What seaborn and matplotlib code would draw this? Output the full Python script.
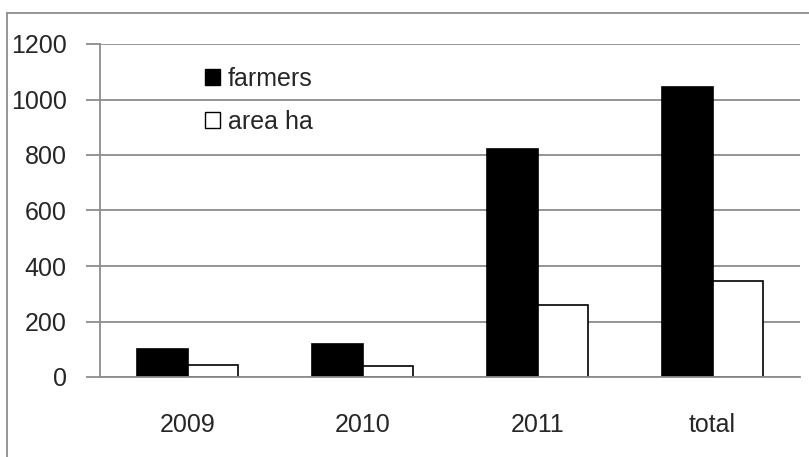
import numpy as np
import pandas as pd
import matplotlib.pyplot as plt
import seaborn as sns
from matplotlib.lines import Line2D
from matplotlib.patches import Patch

categories = ["2009", "2010", "2011", "total"]
farmers = [102, 120, 820, 1045]
area_ha = [45, 40, 260, 345]

data = pd.DataFrame({
    "Year": categories * 2,
    "Value": farmers + area_ha,
    "Series": ["farmers"] * 4 + ["area ha"] * 4,
})

sns.set_style("white")
plt.rcParams["font.family"] = ["Liberation Sans", "DejaVu Sans"]

fig = plt.figure(figsize=(8.09, 4.57), dpi=100)
ax = fig.add_axes([100 / 809, 1 - 377 / 457, 700 / 809, 333 / 457])

sns.barplot(data=data, x="Year", y="Value", hue="Series",
            palette=["black", "white"], edgecolor="black", linewidth=1.2,
            width=0.572, gap=0, saturation=1, ax=ax, legend=False)

ax.set_ylim(0, 1200)
ax.set_xlim(-0.5, 3.5)
ax.set_yticks(np.arange(0, 1201, 200))
ax.yaxis.grid(True, color="#8c8c8c", linewidth=1.3)
ax.set_axisbelow(True)
ax.set_xlabel("")
ax.set_ylabel("")

for side in ["top", "right"]:
    ax.spines[side].set_visible(False)
for side in ["left", "bottom"]:
    ax.spines[side].set_color("#8c8c8c")
    ax.spines[side].set_linewidth(1.3)

ax.set_xticks([0, 1, 2, 3])
ax.set_xticklabels(categories)
ax.set_xticks([-0.5, 0.5, 1.5, 2.5, 3.5], minor=True)
ax.tick_params(axis="x", which="major", length=0, pad=26, labelsize=18)
ax.tick_params(axis="x", which="minor", length=8, width=1.3, color="#8c8c8c", direction="out")
ax.tick_params(axis="y", length=10, width=1.3, color="#8c8c8c", pad=14, labelsize=18, left=True)

handles = [Patch(facecolor="black", edgecolor="black"),
           Patch(facecolor="white", edgecolor="black")]
ax.legend(handles, ["farmers", "area ha"], loc="upper left",
          bbox_to_anchor=(95 / 700, 1 - 13 / 333), frameon=False, fontsize=18,
          handlelength=0.6, handleheight=0.6, handletextpad=0.3,
          labelspacing=0.75, borderaxespad=0)

# outer chart border
fig.add_artist(Line2D([7 / 809, 7 / 809], [0, 1 - 13 / 457], color="#8c8c8c", linewidth=1.3))
fig.add_artist(Line2D([7 / 809, 1], [1 - 13 / 457, 1 - 13 / 457], color="#8c8c8c", linewidth=1.3))

fig.savefig("out.png", dpi=100)
